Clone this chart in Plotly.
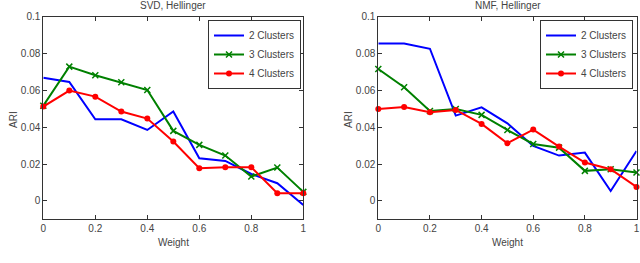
import plotly.graph_objects as go

weights = [0, 0.1, 0.2, 0.3, 0.4, 0.5, 0.6, 0.7, 0.8, 0.9, 1.0]
series_names = ["2 Clusters", "3 Clusters", "4 Clusters"]

svd_2 = [0.0669, 0.0646, 0.0443, 0.0443, 0.0385, 0.0485, 0.0231, 0.0217, 0.0146, 0.0096, -0.0022]
svd_3 = [0.0517, 0.0729, 0.0682, 0.0644, 0.0602, 0.0380, 0.0304, 0.0246, 0.0132, 0.0181, 0.0049]
svd_4 = [0.0512, 0.0599, 0.0566, 0.0485, 0.0447, 0.0322, 0.0177, 0.0183, 0.0183, 0.0042, 0.0042]

nmf_2 = [0.0855, 0.0855, 0.0826, 0.0463, 0.0508, 0.0421, 0.0298, 0.0246, 0.0262, 0.0054, 0.0271]
nmf_3 = [0.0716, 0.0617, 0.0488, 0.0499, 0.0467, 0.0385, 0.0309, 0.0289, 0.0163, 0.0172, 0.0154]
nmf_4 = [0.0499, 0.0510, 0.0481, 0.0494, 0.0418, 0.0313, 0.0387, 0.0295, 0.0208, 0.0172, 0.0076]

xticks = [0, 0.2, 0.4, 0.6, 0.8, 1]
xticklabels = ["0", "0.2", "0.4", "0.6", "0.8", "1"]
yticks = [0, 0.02, 0.04, 0.06, 0.08, 0.1]
yticklabels = ["0", "0.02", "0.04", "0.06", "0.08", "0.1"]

colors = ["#0000ff", "#008000", "#ff0000"]
markers = [None, "x-thin-open", "circle"]

W, H = 640, 263
fig = go.Figure()

panels = [
    ("x", "y", "legend", [svd_2, svd_3, svd_4]),
    ("x2", "y2", "legend2", [nmf_2, nmf_3, nmf_4]),
]
for xa, ya, leg, data in panels:
    for name, vals, c, m in zip(series_names, data, colors, markers):
        kw = dict(x=weights, y=vals, name=name, xaxis=xa, yaxis=ya, legend=leg,
                  line=dict(color=c, width=2), cliponaxis=False)
        if m is None:
            kw["mode"] = "lines"
        else:
            kw["mode"] = "lines+markers"
            if m == "circle":
                kw["marker"] = dict(symbol="circle", size=6, color=c)
            else:
                kw["marker"] = dict(symbol=m, size=6, color=c, line=dict(color=c, width=1.5))
        fig.add_trace(go.Scatter(**kw))

FONT = "Liberation Sans, Arial, sans-serif"
font = dict(family=FONT, size=10, color="#444444")
ydom = [1 - 219.3 / H, 1 - 16.7 / H]

def xaxis(dom):
    return dict(domain=dom, range=[0, 1], tickvals=xticks, ticktext=xticklabels,
                showline=True, linecolor="#333333", linewidth=1, mirror="ticks",
                ticks="inside", ticklen=4, tickcolor="#333333", showgrid=False,
                zeroline=False, tickfont=font, automargin=False)

def yaxis(anchor):
    return dict(domain=ydom, range=[-0.01, 0.1], tickvals=yticks, ticktext=yticklabels,
                showline=True, linecolor="#333333", linewidth=1, mirror="ticks",
                ticks="inside", ticklen=4, tickcolor="#333333", showgrid=False,
                zeroline=False, tickfont=font, anchor=anchor, automargin=False)

legstyle = dict(bgcolor="white", bordercolor="#333333", borderwidth=1,
                font=dict(family=FONT, size=10, color="#444444"),
                yanchor="top", xanchor="right", tracegroupgap=0, itemwidth=30)

fig.update_layout(
    width=W, height=H, margin=dict(l=0, r=0, t=0, b=0, pad=0, autoexpand=False),
    paper_bgcolor="white", plot_bgcolor="white",
    xaxis=dict(xaxis([43.3 / W, 303.3 / W]), anchor="y"),
    yaxis=yaxis("x"),
    xaxis2=dict(xaxis([378.3 / W, 636.5 / W]), anchor="y2"),
    yaxis2=yaxis("x2"),
    legend=dict(legstyle, x=301 / W, y=1 - 20 / H),
    legend2=dict(legstyle, x=633 / W, y=1 - 20 / H),
    showlegend=True,
)

ann_font = dict(family=FONT, size=10, color="#444444")
annotations = [
    ("SVD, Hellinger", 173, 6, 0),
    ("NMF, Hellinger", 508, 6, 0),
    ("Weight", 173, 242, 0),
    ("Weight", 507, 242, 0),
    ("ARI", 13, 120, -90),
    ("ARI", 348, 120, -90),
]
for text, px, py, ang in annotations:
    fig.add_annotation(text=text, x=px / W, y=1 - py / H, xref="paper", yref="paper",
                       showarrow=False, textangle=ang, font=ann_font,
                       xanchor="center", yanchor="middle")

fig.write_html("out.html", config={"displayModeBar": False},
               post_script="document.body.style.margin='0';document.body.style.overflow='hidden';")
